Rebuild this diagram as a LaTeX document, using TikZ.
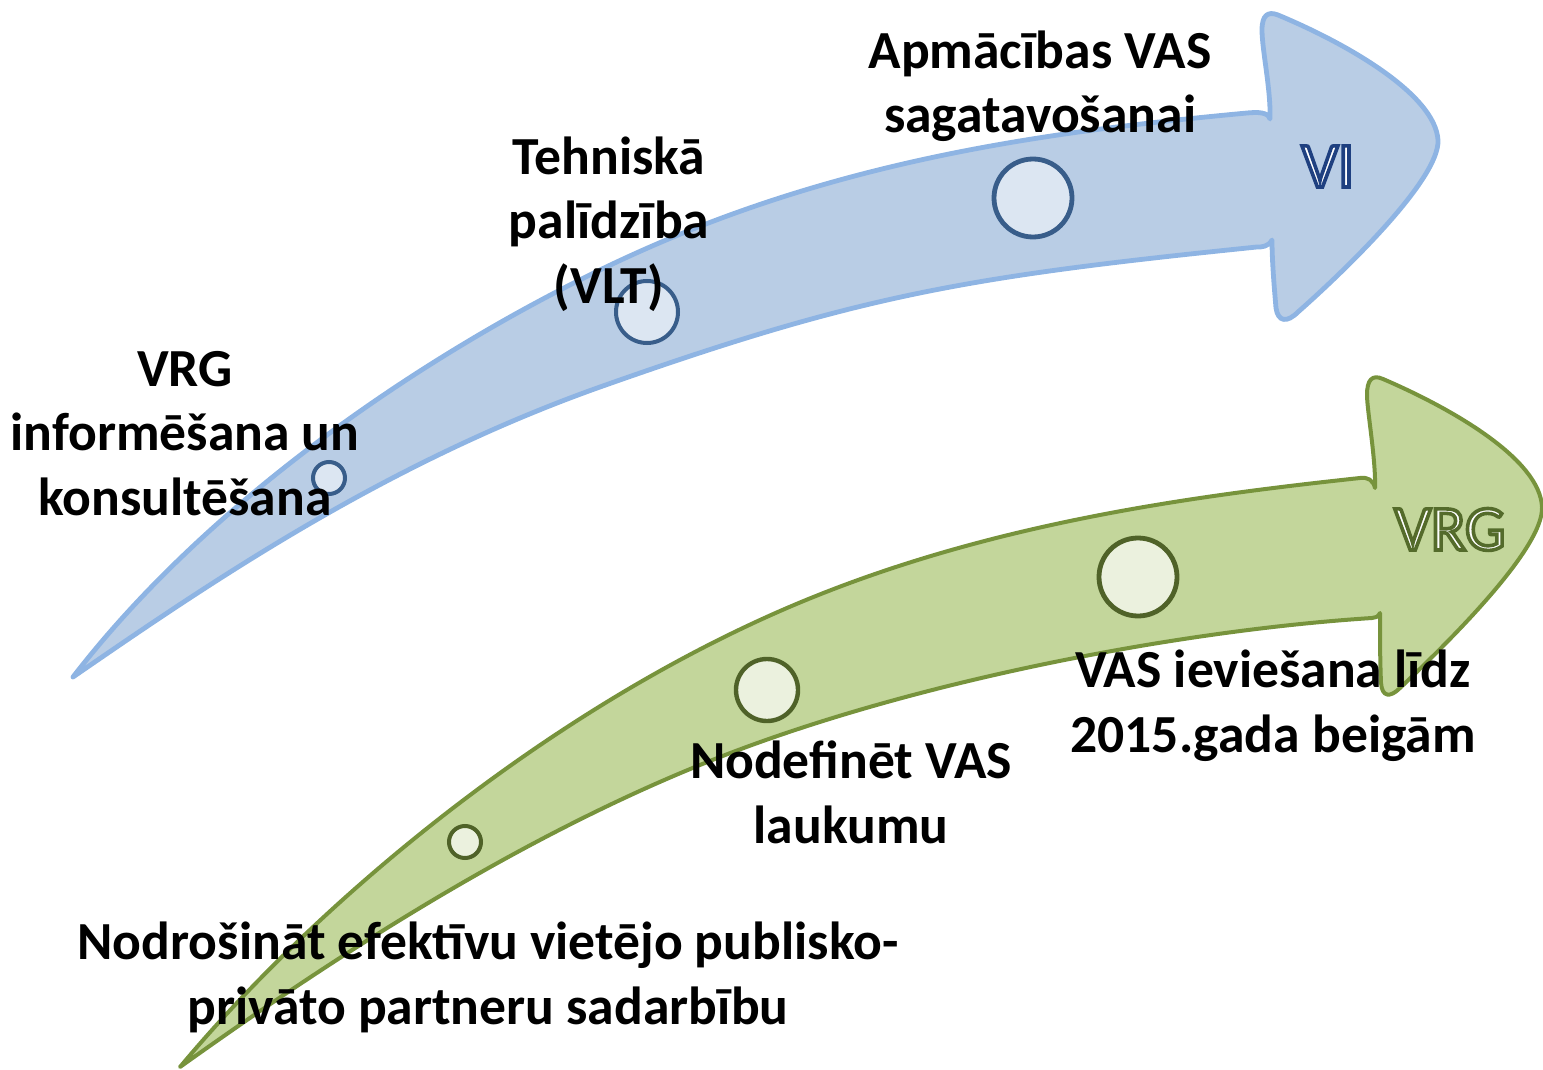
\documentclass[tikz,border=0pt]{standalone}
\usepackage{fontspec}
\setmainfont{Carlito}
\definecolor{bfill}{HTML}{B9CDE5}
\definecolor{bline}{HTML}{8EB4E3}
\definecolor{bdot}{HTML}{DCE6F2}
\definecolor{bdotline}{HTML}{385D8A}
\definecolor{gfill}{HTML}{C3D69B}
\definecolor{gline}{HTML}{77933C}
\definecolor{gdot}{HTML}{EBF1DE}
\definecolor{gdotline}{HTML}{4F6228}
\newcommand{\outlined}[2]{{\color{white}\special{pdf:code 2 Tr 1.8 w #1 RG}#2\special{pdf:code 0 Tr}}}
\begin{document}
\begin{tikzpicture}[x=0.5pt,y=-0.5pt,
  barrow/.style={fill=bfill,draw=bline,line width=2.4pt,line join=round},
  garrow/.style={fill=gfill,draw=gline,line width=2pt,line join=round},
  bdotstyle/.style={circle,fill=bdot,draw=bdotline,inner sep=0pt},
  gdotstyle/.style={circle,fill=gdot,draw=gdotline,inner sep=0pt},
  lbl/.style={font=\fontsize{26.8}{32.25}\selectfont\bfseries,align=center,anchor=base,inner sep=0pt},
  biglbl/.style={font=\fontsize{32}{38}\selectfont,anchor=base,inner sep=0pt}]
\useasboundingbox (0,0) rectangle (1543,1070);
% blue arrow
\draw[barrow] (73,677) .. controls (208,502) and (420,357) .. (600,270)
  .. controls (820,163) and (1033,133) .. (1247,113)
  .. controls (1258,112) and (1268,112) .. (1270,119)
  .. controls (1271,90) and (1262,50) .. (1262,30)
  .. controls (1262,15) and (1268,11) .. (1278,15)
  .. controls (1350,45) and (1435,95) .. (1438,140)
  .. controls (1440,180) and (1340,275) .. (1298,312)
  .. controls (1287,323) and (1278,322) .. (1276,308)
  .. controls (1274,285) and (1272,260) .. (1272,240)
  .. controls (1268,247) and (1262,247) .. (1257,247)
  .. controls (964,277) and (860,295) .. (600,387)
  .. controls (383,464) and (208,584) .. (73,677) -- cycle;
% green arrow
\draw[garrow] (180,1067) .. controls (305,917) and (520,730) .. (760,620)
  .. controls (960,528) and (1174,498) .. (1360,478)
  .. controls (1368,477) and (1373,480) .. (1375,488)
  .. controls (1376,460) and (1367,410) .. (1367,395)
  .. controls (1367,380) and (1372,374) .. (1383,379)
  .. controls (1455,410) and (1540,460) .. (1542,507)
  .. controls (1544,550) and (1440,650) .. (1400,688)
  .. controls (1390,698) and (1382,697) .. (1381,683)
  .. controls (1380,660) and (1380,635) .. (1380,613)
  .. controls (1378,617) and (1375,618) .. (1372,618)
  .. controls (1185,630) and (920,679) .. (720,757)
  .. controls (520,835) and (330,960) .. (180,1067) -- cycle;
% dots
\node[bdotstyle,minimum size=16pt,line width=2pt] (b1) at (329,478) {};
\node[bdotstyle,minimum size=31pt,line width=2pt] (b2) at (647,312) {};
\node[bdotstyle,minimum size=39pt,line width=2.4pt] (b3) at (1033,198) {};
\node[gdotstyle,minimum size=16pt,line width=2pt] (g1) at (465,842) {};
\node[gdotstyle,minimum size=31pt,line width=2.2pt] (g2) at (767,690) {};
\node[gdotstyle,minimum size=39pt,line width=2.4pt] (g3) at (1138,577) {};
% arrow names
\node[biglbl] (vi) at (1328,187) {\outlined{0.12 0.25 0.50}{VI}};
\node[biglbl] (vrg) at (1450,550) {\outlined{0.33 0.42 0.17}{VRG}};
% labels (anchored at the baseline of the last line)
\node[lbl] (t1) at (185,515) {VRG\\informēšana un\\konsultēšana};
\node[lbl] (t2) at (609,303) {Tehniskā\\palīdzība\\(VLT)};
\node[lbl] (t3) at (1040,133) {Apmācības VAS\\sagatavošanai};
\node[lbl] (t4) at (851,843) {Nodefinēt VAS\\laukumu};
\node[lbl] (t5) at (1273,752) {VAS ieviešana līdz\\2015.gada beigām};
\node[lbl] (t6) at (488,1024) {Nodrošināt efektīvu vietējo publisko-\\privāto partneru sadarbību};
\end{tikzpicture}
\end{document}
